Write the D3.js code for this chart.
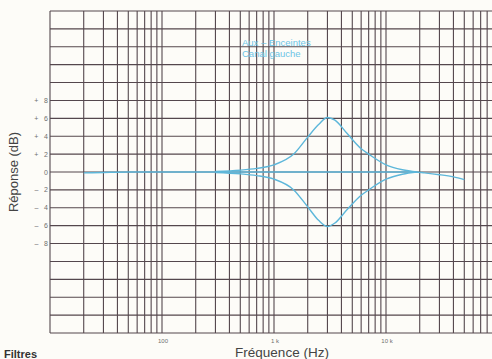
<!DOCTYPE html>
<html>
<head>
<meta charset="utf-8">
<script src="https://cdn.jsdelivr.net/npm/d3@7"></script>
<style>
  body { margin: 0; background: #fdfcf8; }
  svg { display: block; }
</style>
</head>
<body>
<div id="chart"></div>
<script>
// ---- data ----
var flatFreq = [20, 30, 50, 100, 300, 1000, 5000, 10000, 18000, 22000, 30000, 40000, 50000];
var flatDb   = [-0.1, -0.05, 0, 0, 0, 0, 0, 0, 0, -0.1, -0.3, -0.55, -0.85];

var boostFreq = [300, 500, 700, 1000, 1500, 2000, 2500, 3000, 3500, 4500, 6000, 7000, 10000, 14000, 19000];
var boostDb   = [0.05, 0.2, 0.4, 0.8, 2.0, 3.9, 5.3, 6.1, 5.8, 4.3, 2.6, 2.0, 0.8, 0.25, 0];

var cutFreq = [300, 500, 700, 1000, 1500, 2000, 2500, 3000, 3500, 4500, 6000, 7000, 10000, 14000, 19000];
var cutDb   = [-0.05, -0.2, -0.4, -0.8, -2.0, -3.9, -5.4, -6.1, -5.7, -4.2, -2.6, -2.0, -0.8, -0.25, 0];

var yTicks = [8, 6, 4, 2, 0, -2, -4, -6, -8];
var yTickLabels = ["+ 8", "+ 6", "+ 4", "+ 2", "0", "\u2013 2", "\u2013 4", "\u2013 6", "\u2013 8"];
var xTicks = [100, 1000, 10000];
var xTickLabels = ["100", "1 k", "10 k"];
var legendLines = ["Aux \u2013 Enceintes", "Canal gauche"];

var width = 492, height = 359;
var gridColor = "#54474d";
var curveColor = "#5db7da";

var svg = d3.select("#chart")
    .append("svg")
    .attr("width", width)
    .attr("height", height);

svg.append("rect")
    .attr("width", width).attr("height", height)
    .attr("fill", "#fdfcf8");

var x = d3.scaleLog().domain([10, 100000]).range([50, 498]);
var y = d3.scaleLinear().domain([18, -18]).range([11, 333]);

// grid: vertical log lines
var vLines = [];
[10, 100, 1000, 10000].forEach(function(dec){
    for (var k = 1; k <= 9; k++) vLines.push(dec * k);
});
vLines.push(100000);

var grid = svg.append("g");
grid.selectAll("line.v")
    .data(vLines)
    .enter().append("line")
    .attr("class", "v")
    .attr("x1", function(d){ return x(d); })
    .attr("x2", function(d){ return x(d); })
    .attr("y1", y(18))
    .attr("y2", y(-18))
    .attr("stroke", gridColor)
    .attr("stroke-width", 1.1);

grid.selectAll("line.h")
    .data(d3.range(-18, 19, 2))
    .enter().append("line")
    .attr("class", "h")
    .attr("x1", x(10))
    .attr("x2", width)
    .attr("y1", function(d){ return y(d); })
    .attr("y2", function(d){ return y(d); })
    .attr("stroke", gridColor)
    .attr("stroke-width", 1.1);

// y tick labels
svg.selectAll("text.yt")
    .data(yTicks)
    .enter().append("text")
    .attr("class", "yt")
    .attr("x", 48)
    .attr("y", function(d){ return y(d) + 2.5; })
    .attr("text-anchor", "end")
    .attr("font-family", "Liberation Sans, Arial, sans-serif")
    .attr("font-size", 7)
    .attr("fill", "#6f6f6f")
    .attr("xml:space", "preserve")
    .text(function(d, i){ return yTickLabels[i].replace(" ", "   "); });

// x tick labels
svg.selectAll("text.xt")
    .data(xTicks)
    .enter().append("text")
    .attr("class", "xt")
    .attr("x", function(d){ return x(d) + 1; })
    .attr("y", 343)
    .attr("text-anchor", "middle")
    .attr("font-family", "Liberation Sans, Arial, sans-serif")
    .attr("font-size", 6)
    .attr("fill", "#6f6f6f")
    .text(function(d, i){ return xTickLabels[i]; });

// axis titles
svg.append("text")
    .attr("x", 282)
    .attr("y", 357)
    .attr("text-anchor", "middle")
    .attr("font-family", "Liberation Sans, Arial, sans-serif")
    .attr("font-size", 13.5)
    .attr("fill", "#444")
    .text("Fréquence (Hz)");

svg.append("text")
    .attr("transform", "translate(18,172) rotate(-90)")
    .attr("text-anchor", "middle")
    .attr("font-family", "Liberation Sans, Arial, sans-serif")
    .attr("font-size", 13)
    .attr("fill", "#444")
    .text("Réponse (dB)");

// caption at bottom left (mostly off the page in the scan)
svg.append("text")
    .attr("x", 4)
    .attr("y", 358)
    .attr("font-family", "Liberation Sans, Arial, sans-serif")
    .attr("font-weight", "bold")
    .attr("font-size", 11)
    .attr("fill", "#333")
    .text("Filtres");

// legend text
svg.selectAll("text.lg")
    .data(legendLines)
    .enter().append("text")
    .attr("class", "lg")
    .attr("x", 242)
    .attr("y", function(d, i){ return 46 + i * 11; })
    .attr("font-family", "Liberation Sans, Arial, sans-serif")
    .attr("font-size", 9.5)
    .attr("fill", "#6cc4e6")
    .text(function(d){ return d; });

// curves
var line = d3.line()
    .x(function(d){ return x(d[0]); })
    .y(function(d){ return y(d[1]); })
    .curve(d3.curveMonotoneX);

function pairs(f, v){ return f.map(function(d, i){ return [d, v[i]]; }); }

[pairs(flatFreq, flatDb), pairs(boostFreq, boostDb), pairs(cutFreq, cutDb)].forEach(function(s){
    svg.append("path")
        .datum(s)
        .attr("d", line)
        .attr("fill", "none")
        .attr("stroke", curveColor)
        .attr("stroke-width", 1.4);
});
</script>
</body>
</html>
